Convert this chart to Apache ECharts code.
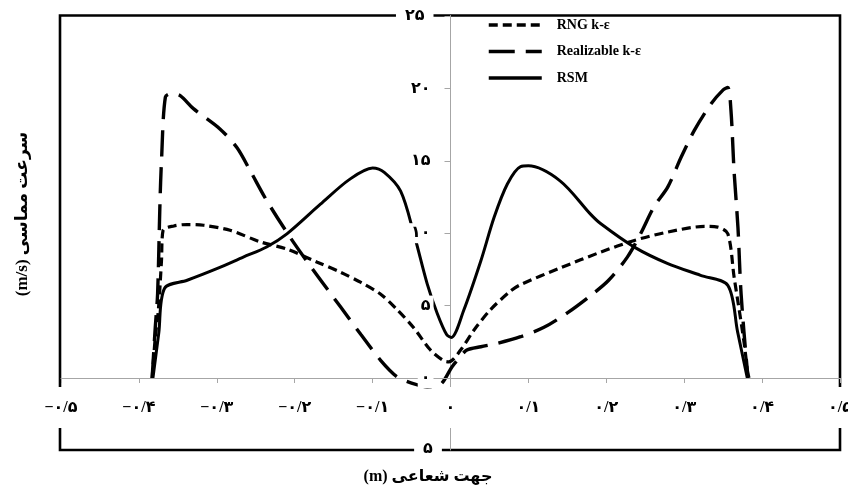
<!DOCTYPE html>
<html>
<head>
<meta charset="utf-8">
<script src="https://cdn.jsdelivr.net/npm/echarts@6/dist/echarts.min.js"></script>
<style>html,body{margin:0;padding:0;background:#fff}#c{width:848px;height:492px}</style>
</head>
<body>
<div id="c"></div>
<script>
// ---- data ----
const seriesNames = ['RNG k-ε', 'Realizable k-ε', 'RSM'];

const rngX = [-0.383,-0.379,-0.375,-0.371,-0.369,-0.355,-0.338,-0.317,-0.283,-0.244,-0.210,-0.171,-0.141,-0.115,-0.090,-0.069,-0.047,-0.026,-0.009,-0.002,0.013,0.030,0.051,0.077,0.090,0.141,0.193,0.236,0.279,0.326,0.343,0.356,0.364,0.377,0.382];
const rngY = [0,2.8,4.7,8.1,10.2,10.5,10.6,10.55,10.2,9.4,8.9,8.0,7.3,6.6,5.8,4.75,3.45,1.95,1.2,1.12,1.93,3.3,4.7,6.0,6.45,7.6,8.7,9.5,10.08,10.47,10.42,9.96,7.0,2.4,0];

const realX = [-0.383,-0.379,-0.376,-0.373,-0.371,-0.366,-0.358,-0.347,-0.330,-0.296,-0.274,-0.257,-0.236,-0.206,-0.176,-0.141,-0.115,-0.090,-0.069,-0.050,-0.030,-0.013,0.002,0.009,0.021,0.039,0.060,0.090,0.120,0.150,0.180,0.203,0.227,0.244,0.261,0.279,0.296,0.313,0.334,0.350,0.356,0.360,0.364,0.369,0.373,0.381,0.383];
const realY = [0,3.5,5.8,12.0,15.0,19.4,19.65,19.5,18.6,17.2,15.9,14.3,12.26,9.73,7.44,4.9,3.0,1.24,0.1,-0.35,-0.6,-0.45,0.78,1.24,1.93,2.16,2.39,2.85,3.5,4.5,5.7,6.75,8.35,9.96,11.8,13.2,15.24,17.1,18.9,19.9,20.06,18.5,14.3,10.4,5.83,0.55,0];

const rsmX = [-0.382,-0.3745,-0.367,-0.338,-0.300,-0.266,-0.236,-0.210,-0.167,-0.130,-0.100,-0.085,-0.064,-0.047,-0.030,-0.017,-0.005,0.001,0.017,0.039,0.056,0.073,0.090,0.100,0.141,0.180,0.193,0.236,0.279,0.321,0.356,0.3685,0.381];
const rsmY = [0,3.1,6.2,6.75,7.55,8.35,9.05,9.95,12.0,13.7,14.5,14.2,12.9,9.96,6.52,4.46,3.0,2.8,4.68,8.1,11.1,13.4,14.6,14.65,13.6,11.3,10.65,9.04,7.9,7.09,6.4,3.2,0];

const xTicks = [-0.5,-0.4,-0.3,-0.2,-0.1,0,0.1,0.2,0.3,0.4,0.5];
const yTicks = [0,5,10,15,20,25];

const xTitle = '\u202Bجهت شعاعی (m)\u202C';
const yTitle = '\u202Bسرعت مماسی (m/s)\u202C';
const frameMark = '۵';

// ---- helpers ----
const FA = '۰۱۲۳۴۵۶۷۸۹';
const toFa = s => String(s).replace(/[0-9]/g, d => FA[+d]);
const zip = (xs, ys) => xs.map((x, i) => [x, ys[i]]);
const fontFam = '"Liberation Serif", "DejaVu Sans", serif';
const gray = '#a6a6a6';
const GRID_LEFT = 61, GRID_RIGHT = 8;
const plotW = 848 - GRID_LEFT - GRID_RIGHT;
const yAxisOffset = -plotW * (0 - xTicks[0]) / (xTicks[xTicks.length - 1] - xTicks[0]);

const chart = echarts.init(document.getElementById('c'), null, {renderer: 'canvas'});
chart.setOption({
  backgroundColor: '#fff',
  animation: false,
  color: ['#000', '#000', '#000'],
  grid: [
    {left: GRID_LEFT, right: GRID_RIGHT, top: 16, bottom: 114, outerBoundsMode: 'none', containLabel: false},
    {left: 60, right: 8, top: 15.5, bottom: 42, show: true, borderColor: '#000', borderWidth: 2.6, backgroundColor: 'transparent', outerBoundsMode: 'none', containLabel: false, z: 0}
  ],
  xAxis: [
    {
      type: 'value', gridIndex: 0, min: xTicks[0], max: xTicks[xTicks.length - 1], interval: 0.1, z: 6,
      axisLine: {show: true, onZero: true, lineStyle: {color: gray, width: 1}},
      axisTick: {show: true, length: 5, lineStyle: {color: gray}},
      splitLine: {show: false},
      axisLabel: {
        margin: 9, color: '#000', fontSize: 16, fontWeight: 'bold', fontFamily: fontFam,
        backgroundColor: '#fff', padding: [12, 4, 12, 4], lineHeight: 17,
        formatter: v => {
          const r = Math.round(v * 10) / 10;
          if (r === 0) return '۰';
          const s = toFa(Math.abs(r).toFixed(1).replace('.', '/'));
          return (r < 0 ? '−' : '') + s;
        }
      }
    },
    {type: 'value', gridIndex: 1, min: -0.5, max: 0.5, show: false}
  ],
  yAxis: [
    {
      type: 'value', gridIndex: 0, min: yTicks[0], max: yTicks[yTicks.length - 1], interval: 5, zlevel: 1, z: 10,
      position: 'left', offset: yAxisOffset,
      axisLine: {show: false, onZero: false},
      axisTick: {show: true, length: 6, lineStyle: {color: gray}},
      splitLine: {show: false},
      axisLabel: {
        margin: 17, color: '#000', fontSize: 16, fontWeight: 'bold', fontFamily: fontFam,
        backgroundColor: '#fff', padding: [2, 3, 2, 3],
        formatter: v => v === 25 ? '{t|' + toFa(v) + '}' : toFa(v),
        rich: {t: {fontSize: 16, fontWeight: 'bold', fontFamily: fontFam, color: '#000', backgroundColor: '#fff', padding: [2, 6, 2, 6]}}
      }
    },
    {
      type: 'value', gridIndex: 1, min: 0, max: 1, z: 0,
      axisLine: {show: true, onZero: true, lineStyle: {color: gray, width: 1}},
      axisTick: {show: false}, axisLabel: {show: false}, splitLine: {show: false}
    }
  ],
  legend: {
    orient: 'vertical', left: 487, top: 18, padding: 0, itemWidth: 53, itemHeight: 14, itemGap: 12.5,
    lineStyle: {width: 3.5},
    itemStyle: {color: 'rgba(0,0,0,0)', borderColor: 'rgba(0,0,0,0)', borderWidth: 0},
    textStyle: {color: '#000', fontSize: 14, fontWeight: 'bold', fontFamily: fontFam, padding: [0, 0, 0, 10]},
    data: seriesNames
  },
  series: [
    {
      name: seriesNames[0], type: 'line', xAxisIndex: 0, yAxisIndex: 0, data: zip(rngX, rngY), z: 1,
      symbol: 'none', smooth: 0.3, clip: false,
      lineStyle: {color: '#000', width: 3.2, type: [9, 5]}
    },
    {
      name: seriesNames[1], type: 'line', xAxisIndex: 0, yAxisIndex: 0, data: zip(realX, realY), z: 1,
      symbol: 'none', smooth: 0.3, clip: false,
      lineStyle: {color: '#000', width: 3.4, type: [26, 11]}
    },
    {
      name: seriesNames[2], type: 'line', xAxisIndex: 0, yAxisIndex: 0, data: zip(rsmX, rsmY), z: 1,
      symbol: 'none', smooth: 0.3, clip: false,
      lineStyle: {color: '#000', width: 3}
    }
  ],
  graphic: [
    {type: 'text', x: 428, y: 477, z: 100,
      style: {text: xTitle, fill: '#000', font: 'bold 16px ' + fontFam, align: 'center', verticalAlign: 'middle'}},
    {type: 'text', x: 23, y: 214, rotation: Math.PI / 2, z: 100,
      style: {text: yTitle, fill: '#000', font: 'bold 17px ' + fontFam, align: 'center', verticalAlign: 'middle'}},
    {type: 'text', x: 428, y: 449, z: 100,
      style: {text: frameMark, fill: '#000', font: 'bold 16px ' + fontFam, align: 'center', verticalAlign: 'middle', backgroundColor: '#fff', padding: [2, 9, 2, 9]}}
  ]
});
</script>
</body>
</html>
